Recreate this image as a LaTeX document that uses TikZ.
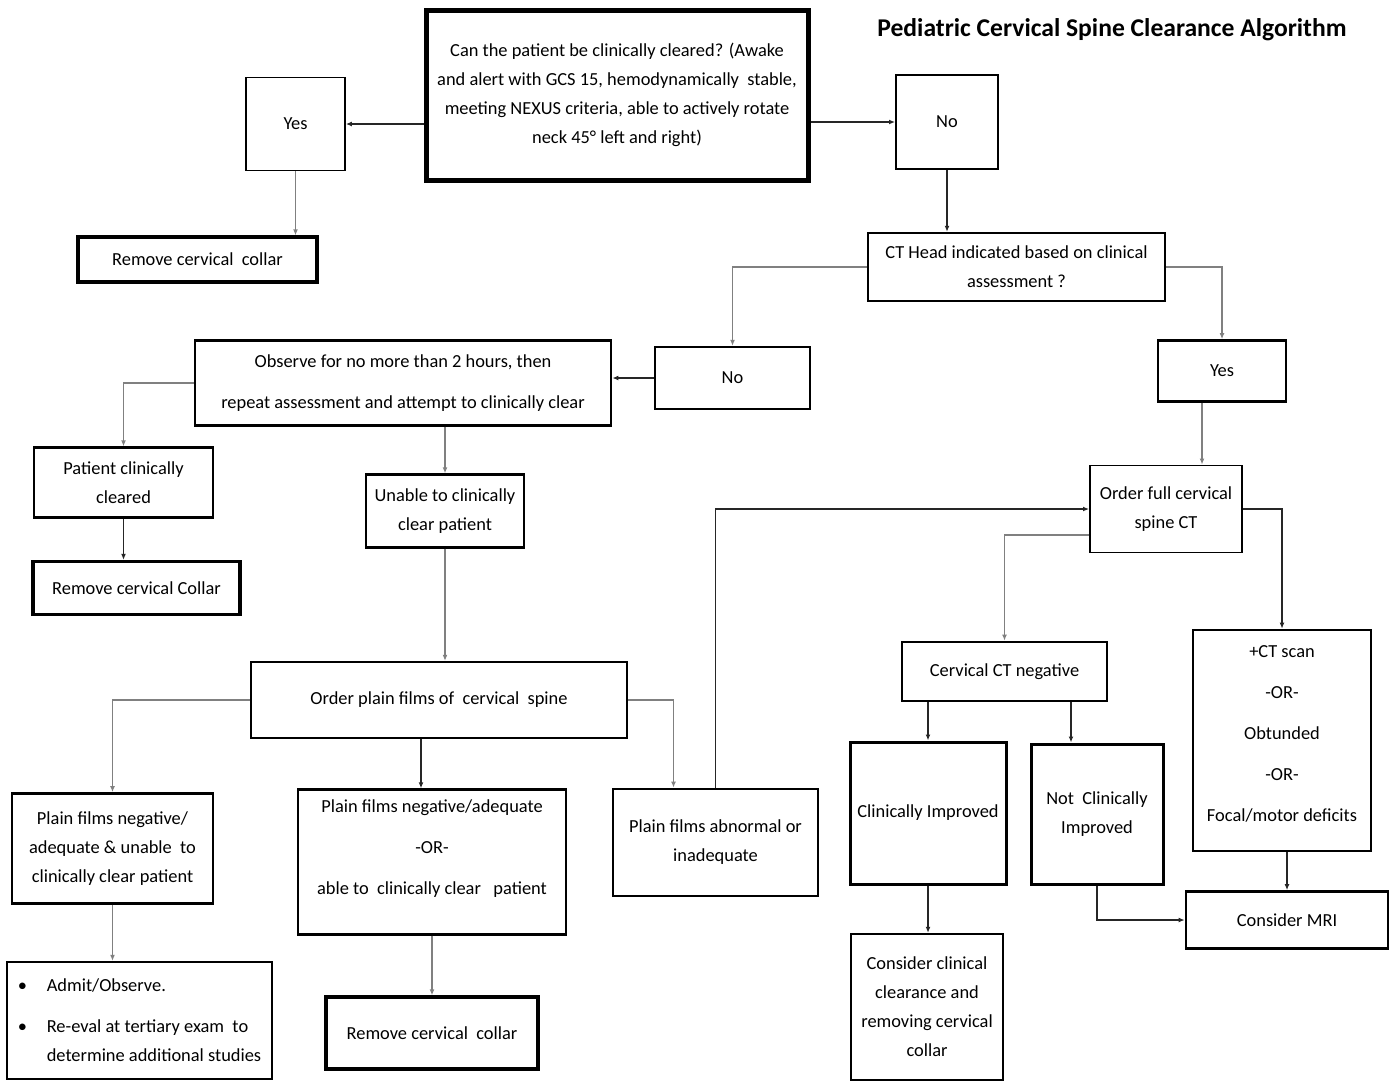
\documentclass[tikz,border=0pt]{standalone}
\usepackage{fontspec}
\setmainfont{Carlito}
\usepackage{tikz}
\usetikzlibrary{arrows.meta, calc, positioning}

\newcommand{\boxfont}{\fontsize{9.2}{14.5}\selectfont}

\begin{document}
\begin{tikzpicture}[x=0.5pt, y=-0.5pt,
	box/.style={draw, rectangle, inner sep=0pt, align=center, font=\boxfont},
	arr/.style={draw=black!85, line width=0.6pt, -{Latex[length=3pt,width=2.4pt]}},
	garr/.style={arr, draw=black!50}]
	\useasboundingbox (0,0) rectangle (1397,1088);
	
	% Title
	\node[font=\fontsize{12.8}{15}\selectfont\bfseries] (title) at (1112,30) {Pediatric Cervical Spine Clearance Algorithm};
	
	% Top question
	\node[box, line width=2.5pt, minimum width=191pt, minimum height=85pt] (q) at (617,95) {Can the patient be clinically cleared? (Awake\\and alert with GCS 15, hemodynamically\ \ stable,\\meeting NEXUS criteria, able to actively rotate\\neck 45° left and right)};
	\node[box, line width=0.8pt, minimum width=49.5pt, minimum height=46.5pt] (yes1) at (295.5,124) {Yes};
	\node[box, line width=0.9pt, minimum width=51pt, minimum height=47pt] (no1) at (947,122) {No};
	\node[box, line width=1.6pt, minimum width=119.5pt, minimum height=22.5pt] (rem1) at (197.5,259.5) {Remove cervical\ \ collar};
	\node[box, line width=1.1pt, minimum width=148.5pt, minimum height=34pt] (cthead) at (1016.5,267) {CT Head indicated based on clinical\\assessment ?};
	
	% CT head branches
	\node[box, line width=1.1pt, minimum width=77.5pt, minimum height=31pt] (no2) at (732.5,378) {No};
	\node[box, line width=1.3pt, minimum width=64pt, minimum height=30.5pt] (yes2) at (1222,371) {Yes};
	\node[box, line width=1.3pt, minimum width=208pt, minimum height=42.5pt] (obs) at (403,383) {Observe for no more than 2 hours, then\\[6pt]repeat assessment and attempt to clinically clear};
	\node[box, line width=1.1pt, minimum width=89.5pt, minimum height=35pt] (pcc) at (123.5,482.5) {Patient clinically\\cleared};
	\node[box, line width=1.6pt, minimum width=103.5pt, minimum height=26.5pt] (rem2) at (136.5,588) {Remove cervical Collar};
	\node[box, line width=1.1pt, minimum width=79pt, minimum height=36.5pt] (unable) at (445,511) {Unable to clinically\\clear patient};
	\node[box, line width=0.9pt, minimum width=76pt, minimum height=43.5pt] (fullct) at (1166,509) {Order full cervical\\spine CT};
	
	% Plain films
	\node[box, line width=1.1pt, minimum width=188pt, minimum height=38pt] (plain) at (439,700) {Order plain films of\ \ cervical\ \ spine};
	\node[box, line width=1.3pt, minimum width=100.5pt, minimum height=55pt] (pneg) at (112.5,848.5) {Plain films negative/\\adequate \& unable\ \ to\\clinically clear patient};
	\node[box, line width=1.1pt, minimum width=134pt, minimum height=72.5pt] (pnegor) at (432,862) {Plain films negative/adequate\\[6pt]-OR-\\[6pt]able to\ \ clinically clear\ \ \ patient\\ \mbox{}};
	\node[box, line width=1.3pt, minimum width=102.5pt, minimum height=53.5pt] (abn) at (715.5,842.5) {Plain films abnormal or\\inadequate};
	\node[box, line width=1.1pt, minimum width=132.5pt, minimum height=58.5pt, align=left] (admit) at (139.5,1020.5) {\makebox[14.5pt][l]{•}Admit/Observe.\\[6pt]\makebox[14.5pt][l]{•}Re-eval at tertiary exam\ \ to\\\hspace*{14.5pt}determine additional studies};
	\node[box, line width=1.6pt, minimum width=106pt, minimum height=36pt] (rem3) at (432,1033) {Remove cervical\ \ collar};
	
	% CT results
	\node[box, line width=1.3pt, minimum width=102.5pt, minimum height=29.5pt] (ctneg) at (1004.5,671.5) {Cervical CT negative};
	\node[box, line width=1.5pt, minimum width=78pt, minimum height=71pt] (climp) at (928,813) {Clinically Improved};
	\node[box, line width=1.5pt, minimum width=66pt, minimum height=70pt] (notimp) at (1097,814) {Not\ \ Clinically\\Improved};
	\node[box, line width=1.3pt, minimum width=89pt, minimum height=110.5pt] (ctscan) at (1282,740.5) {+CT scan\\[6pt]-OR-\\[6pt]Obtunded\\[6pt]-OR-\\[6pt]Focal/motor deficits\\[-7.5pt]\mbox{}};
	\node[box, line width=1.3pt, minimum width=101pt, minimum height=28.5pt] (mri) at (1287,920) {Consider MRI};
	\node[box, line width=1.1pt, minimum width=76pt, minimum height=73pt] (ccc) at (927,1007) {Consider clinical\\clearance and\\removing cervical\\collar};
	
	% Connectors
	\draw[arr] (q.west |- yes1.east) -- (yes1.east);
	\draw[arr] (q.east |- no1.west) -- (no1.west);
	\draw[garr] (yes1.south) -- (yes1.south |- rem1.north);
	\draw[arr] (no1.south) -- (no1.south |- cthead.north);
	\draw[garr] (cthead.west) -| (no2.north);
	\draw[garr] (cthead.east) -| (yes2.north);
	\draw[arr] (no2.west) -- (no2.west -| obs.east);
	\draw[garr] (obs.west) -| (pcc.north);
	\draw[garr] (obs.south -| unable.north) -- (unable.north);
	\draw[arr] (pcc.south) -- (pcc.south |- rem2.north);
	\draw[garr] (unable.south) -- (unable.south |- plain.north);
	
	\coordinate (ys) at ([xshift=-10pt]yes2.south);
	\draw[garr] (ys) -- (ys |- fullct.north);
	\draw[garr] (plain.west) -| (pneg.north);
	\coordinate (ps) at ([xshift=-9pt]plain.south);
	\draw[arr] (ps) -- (ps |- pnegor.north);
	\draw[garr] (plain.east) -| ([xshift=-21pt]abn.north);
	\draw[arr] (abn.north) |- (fullct.west);
	\draw[garr] ([yshift=-13pt]fullct.west) -| (ctneg.north);
	\draw[arr] (fullct.east) -| (ctscan.north);
	
	\draw[arr] (climp.north |- ctneg.south) -- (climp.north);
	\coordinate (nt) at ([xshift=-13pt]notimp.north);
	\draw[arr] (nt |- ctneg.south) -- (nt);
	\draw[arr] (climp.south) -- (climp.south |- ccc.north);
	\draw[arr] (notimp.south) |- (mri.west);
	\draw[arr] (mri.north |- ctscan.south) -- (mri.north);
	\draw[garr] (pneg.south) -- (pneg.south |- admit.north);
	\draw[garr] (pnegor.south) -- (pnegor.south |- rem3.north);
\end{tikzpicture}
\end{document}
